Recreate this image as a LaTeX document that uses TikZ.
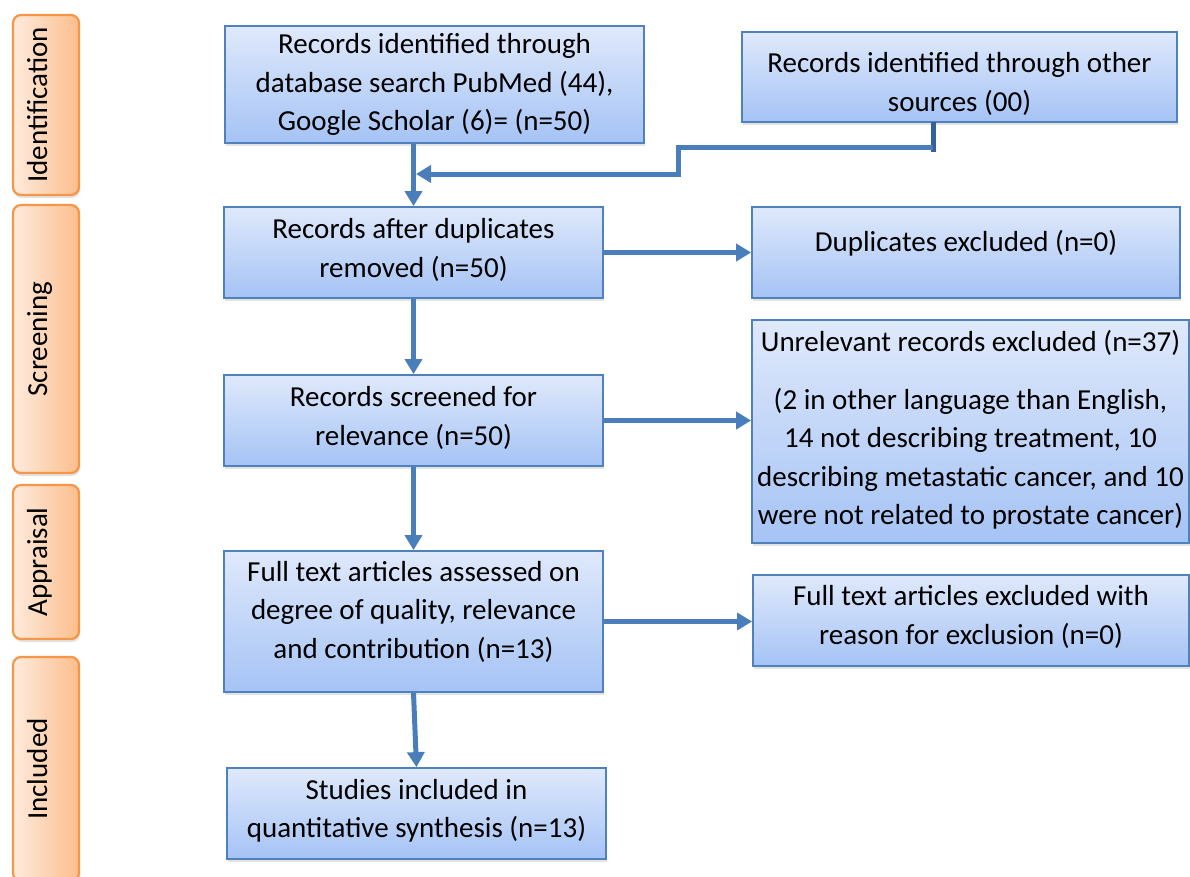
\documentclass[tikz,border=0pt]{standalone}
\usepackage{fontspec}
\setmainfont{Carlito}
\usetikzlibrary{arrows.meta,shadows}

\definecolor{boxblue}{HTML}{4F81BD}
\definecolor{arrowblue}{HTML}{4A7EBB}
\definecolor{stubblue}{HTML}{34609E}
\definecolor{bluetop}{HTML}{DFE9FB}
\definecolor{bluebot}{HTML}{A5C3F5}
\definecolor{phaseorange}{HTML}{F79646}
\definecolor{orangeL}{HTML}{FEEBDD}
\definecolor{orangeR}{HTML}{FBBE8C}

\newcommand\mainsize{\fontsize{29pt}{38.5pt}\selectfont}

\tikzset{
  flowbox/.style={draw=boxblue, line width=1.8pt, top color=bluetop,
    bottom color=bluebot, inner sep=0pt, align=center, font=\mainsize,
    drop shadow={opacity=0.22, shadow xshift=0.5pt, shadow yshift=-3pt}},
  phasebox/.style={draw=phaseorange, line width=2.2pt, rounded corners=8pt,
    left color=orangeL, right color=orangeR, minimum width=66pt, inner sep=0pt,
    drop shadow={opacity=0.22, shadow xshift=1pt, shadow yshift=-3pt}},
  phasetext/.style={rotate=90, anchor=base, font=\mainsize, inner sep=0pt},
  boxtext/.style={align=center, font=\mainsize, inner sep=0pt},
  flow/.style={draw=arrowblue, line width=5pt, line join=miter,
    -{Triangle[length=15pt,width=17pt]}},
  stubline/.style={draw=stubblue, line width=5pt},
}

\begin{document}
\begin{tikzpicture}[x=1pt,y=-1pt]
\useasboundingbox (0,0) rectangle (1190,876);

% phase bars on the left
\node[phasebox, minimum height=180pt] (pId) at (46,105) {};
\node[phasetext] (tId) at (47,105) {Identification};
\node[phasebox, minimum height=268pt] (pSc) at (46,339) {};
\node[phasetext] (tSc) at (47,339) {Screening};
\node[phasebox, minimum height=154pt] (pAp) at (46,562) {};
\node[phasetext] (tAp) at (47,562) {Appraisal};
\node[phasebox, minimum height=224pt] (pIn) at (46,769) {};
\node[phasetext] (tIn) at (47,769) {Included};

% main column
\node[flowbox, minimum width=419pt, minimum height=117pt] (b1) at (434.5,84.5)
  {Records identified through\\database search PubMed (44),\\Google Scholar (6)= (n=50)};
\node[flowbox, minimum width=379pt, minimum height=91pt] (b2) at (413.5,252.5) {};
\node[boxtext] (b2T) at (413.5,250)
  {Records after duplicates\\removed (n=50)};
\node[flowbox, minimum width=379pt, minimum height=91pt] (b3) at (413.5,420.5) {};
\node[boxtext] (b3T) at (413.5,418)
  {Records screened for\\relevance (n=50)};
\node[flowbox, minimum width=379pt, minimum height=141pt] (b4) at (413.5,621.5) {};
\node[boxtext] (b4T) at (413.5,611.5)
  {Full text articles assessed on\\degree of quality, relevance\\and contribution (n=13)};
\node[flowbox, minimum width=379pt, minimum height=91pt] (b5) at (416.5,813.5) {};
\node[boxtext] (b5T) at (416.5,811)
  {Studies included in\\quantitative synthesis (n=13)};

% right column
\node[flowbox, minimum width=435pt, minimum height=90pt] (other) at (959.5,77) {};
\node[boxtext] (otherT) at (959.5,84)
  {Records identified through other\\sources (00)};
\node[flowbox, minimum width=428pt, minimum height=91pt] (dup) at (966,252.5) {};
\node[boxtext] (dupT) at (966,243) {Duplicates excluded (n=0)};
\node[flowbox, minimum width=437pt, minimum height=223pt] (unrel) at (970.5,431.5) {};
\node[boxtext] (unrelT) at (970.5,429.5)
  {Unrelevant records excluded (n=37)\\[19.5pt]
   (2 in other language than English,\\14 not describing treatment, 10\\
   describing metastatic cancer, and 10\\were not related to prostate cancer)};
\node[flowbox, minimum width=436pt, minimum height=91pt] (full) at (971,620.5) {};
\node[boxtext] (fullT) at (971,617)
  {Full text articles excluded with\\reason for exclusion (n=0)};

% connectors
\coordinate (o1) at (933,122);
\coordinate (k1) at (933,147);
\coordinate (k2) at (678,147);
\coordinate (k3) at (678,174);
\coordinate (j1) at (416,174);
\draw[stubline] (o1) -- (933,152);
\draw[flow] (k1) -- (k2) -- (k3) -- (j1);

\draw[flow] (b1.south -| b2.north) -- (b2.north);
\draw[flow] (b2.east) -- (dup.west);
\draw[flow] (b2.south) -- (b3.north);
\draw[flow] (b3.east) -- (unrel.west |- b3.east);
\draw[flow] (b3.south) -- (b4.north);
\draw[flow] (b4.east) -- (full.west |- b4.east);
\draw[flow] (b4.south) -- (b5.north);
\end{tikzpicture}
\end{document}
